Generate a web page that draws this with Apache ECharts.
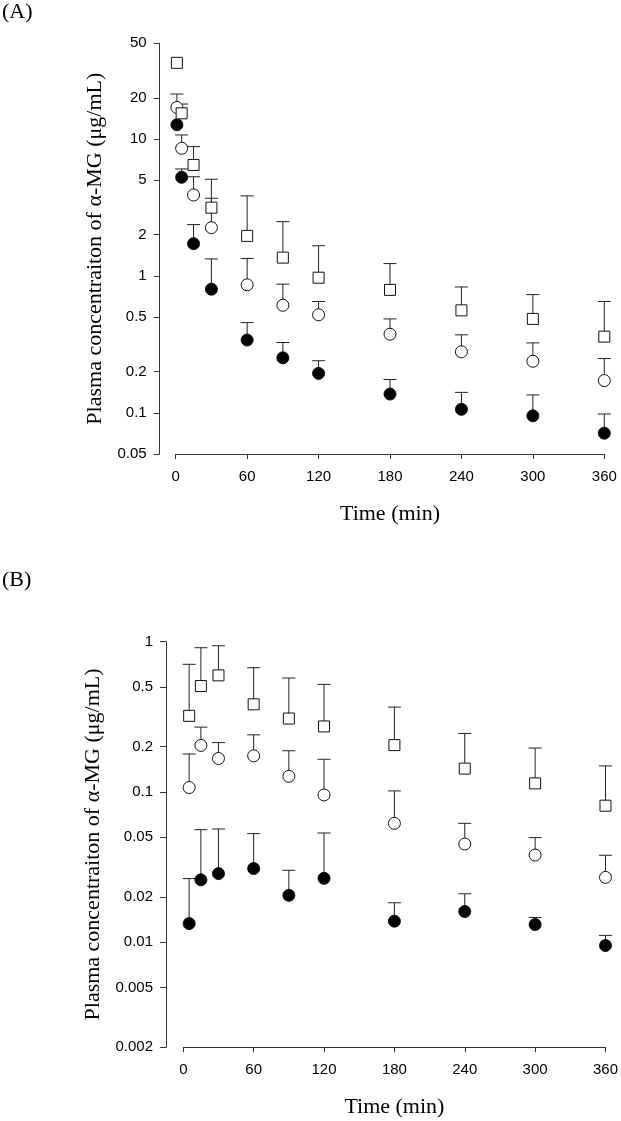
<!DOCTYPE html>
<html><head><meta charset="utf-8">
<script src="https://cdn.jsdelivr.net/npm/echarts@6/dist/echarts.min.js"></script>
<style>html,body{margin:0;padding:0;background:#fff}#c{width:621px;height:1121px}</style>
</head><body><div id="c"></div>
<script>
// ---------- Data ----------
const xTicks = [0, 60, 120, 180, 240, 300, 360];

// Panel A
const timesA = [1, 5, 15, 30, 60, 90, 120, 180, 240, 300, 360];
const yTicksA = [0.05, 0.1, 0.2, 0.5, 1, 2, 5, 10, 20, 50];
const squareA = [36, 15.4, 6.46, 3.15, 1.96, 1.36, 0.97, 0.79, 0.56, 0.485, 0.36];
const squareAUpper = [null, 18.0, 8.8, 5.08, 3.84, 2.49, 1.66, 1.23, 0.83, 0.73, 0.65];
const circleA = [17.0, 8.55, 3.9, 2.25, 0.86, 0.61, 0.52, 0.375, 0.279, 0.238, 0.172];
const circleAUpper = [21.3, 10.7, 5.3, 3.69, 1.34, 0.87, 0.65, 0.485, 0.371, 0.324, 0.249];
const filledA = [12.7, 5.25, 1.72, 0.80, 0.34, 0.252, 0.194, 0.137, 0.106, 0.095, 0.071];
const filledAUpper = [null, 6.04, 2.37, 1.33, 0.456, 0.326, 0.24, 0.175, 0.141, 0.135, 0.098];

// Panel B
const timesB = [5, 15, 30, 60, 90, 120, 180, 240, 300, 360];
const yTicksB = [0.002, 0.005, 0.01, 0.02, 0.05, 0.1, 0.2, 0.5, 1];
const squareB = [0.321, 0.507, 0.597, 0.383, 0.308, 0.273, 0.205, 0.143, 0.114, 0.081];
const squareBUpper = [0.707, 0.912, 0.94, 0.671, 0.573, 0.52, 0.367, 0.245, 0.196, 0.149];
const circleB = [0.107, 0.204, 0.167, 0.174, 0.127, 0.0955, 0.0618, 0.045, 0.038, 0.027];
const circleBUpper = [0.179, 0.27, 0.213, 0.24, 0.188, 0.165, 0.1016, 0.0618, 0.0497, 0.0379];
const filledB = [0.0133, 0.026, 0.0286, 0.0309, 0.0205, 0.0266, 0.0138, 0.016, 0.0131, 0.0095];
const filledBUpper = [0.0265, 0.0561, 0.0567, 0.0528, 0.0301, 0.0533, 0.0183, 0.021, 0.0146, 0.0111];

const yTitle = 'Plasma concentraiton of α-MG (μg/mL)';
const xTitle = 'Time (min)';

// ---------- Styling helpers ----------
const AX = '#333';
const serif = 'Liberation Serif';
const sans = 'Liberation Sans';
const fmt = v => String(+Number(v).toPrecision(3));

function xAxisCfg(gi) {
  return {
    gridIndex: gi, type: 'value', min: 0, max: 360, interval: 60,
    name: xTitle, nameLocation: 'middle', nameGap: 49,
    nameTextStyle: { fontFamily: serif, fontSize: 22, color: '#000' },
    axisLine: { show: true, onZero: false, lineStyle: { color: AX, width: 1 } },
    axisTick: { show: true, inside: false, length: 5, lineStyle: { color: AX }, customValues: xTicks },
    axisLabel: { customValues: xTicks, fontFamily: sans, fontSize: 15, color: '#000', margin: 15 },
    splitLine: { show: false }
  };
}
function yAxisCfg(gi, min, max, ticks, offset, gap) {
  return {
    gridIndex: gi, type: 'log', logBase: 10, min: min, max: max, offset: offset,
    name: yTitle, nameLocation: 'middle', nameGap: gap,
    nameTextStyle: { fontFamily: serif, fontSize: 22, color: '#000' },
    axisLine: { show: true, onZero: false, lineStyle: { color: AX, width: 1 } },
    axisTick: { show: true, inside: false, length: 6, lineStyle: { color: AX }, customValues: ticks },
    axisLabel: { customValues: ticks, formatter: fmt, fontFamily: sans, fontSize: 15, color: '#000', margin: 13 },
    minorTick: { show: false },
    splitLine: { show: false }
  };
}
function errSeries(gi, times, mean, upper) {
  const data = [];
  times.forEach((t, i) => { if (upper[i] != null) data.push([t, mean[i], upper[i]]); });
  return {
    type: 'custom', xAxisIndex: gi, yAxisIndex: gi, z: 1, clip: false,
    encode: { x: 0, y: [1, 2] },
    data: data,
    renderItem: function (params, api) {
      const p0 = api.coord([api.value(0), api.value(1)]);
      const p1 = api.coord([api.value(0), api.value(2)]);
      const hw = 6.5;
      return {
        type: 'group', children: [
          { type: 'line', shape: { x1: p0[0], y1: p0[1], x2: p1[0], y2: p1[1] }, style: { stroke: '#222', lineWidth: 1 } },
          { type: 'line', shape: { x1: p1[0] - hw, y1: p1[1], x2: p1[0] + hw, y2: p1[1] }, style: { stroke: '#222', lineWidth: 1 } }
        ]
      };
    }
  };
}
function ptSeries(gi, times, vals, symbol, size, fill, z) {
  return {
    type: 'scatter', xAxisIndex: gi, yAxisIndex: gi, z: z,
    symbol: symbol, symbolSize: size,
    itemStyle: { color: fill, borderColor: '#111', borderWidth: 1, opacity: 1 },
    emphasis: { disabled: true },
    data: times.map((t, i) => [t, vals[i]])
  };
}

const chart = echarts.init(document.getElementById('c'), null, { renderer: 'canvas' });
chart.setOption({
  animation: false,
  backgroundColor: '#fff',
  graphic: [
    { type: 'text', left: 2, top: 1, style: { text: '(A)', font: '22px "Liberation Serif"', fill: '#000' } },
    { type: 'text', left: 2, top: 569, style: { text: '(B)', font: '22px "Liberation Serif"', fill: '#000' } }
  ],
  grid: [
    { left: 175.7, top: 43.3, width: 428.6, height: 410.7, containLabel: false },
    { left: 183.3, top: 641.7, width: 422.4, height: 405.5, containLabel: false }
  ],
  xAxis: [xAxisCfg(0), xAxisCfg(1)],
  yAxis: [
    yAxisCfg(0, 0.05, 50, yTicksA, 16, 42),
    yAxisCfg(1, 0.002, 1, yTicksB, 17.3, 47)
  ],
  series: [
    errSeries(0, timesA, filledA, filledAUpper),
    errSeries(0, timesA, circleA, circleAUpper),
    errSeries(0, timesA, squareA, squareAUpper),
    ptSeries(0, timesA, filledA, 'circle', 12, '#000', 2),
    ptSeries(0, timesA, circleA, 'circle', 12, '#fff', 3),
    ptSeries(0, timesA, squareA, 'rect', 11, '#fff', 4),
    errSeries(1, timesB, filledB, filledBUpper),
    errSeries(1, timesB, circleB, circleBUpper),
    errSeries(1, timesB, squareB, squareBUpper),
    ptSeries(1, timesB, filledB, 'circle', 12, '#000', 2),
    ptSeries(1, timesB, circleB, 'circle', 12, '#fff', 3),
    ptSeries(1, timesB, squareB, 'rect', 11, '#fff', 4)
  ]
});
</script></body></html>
